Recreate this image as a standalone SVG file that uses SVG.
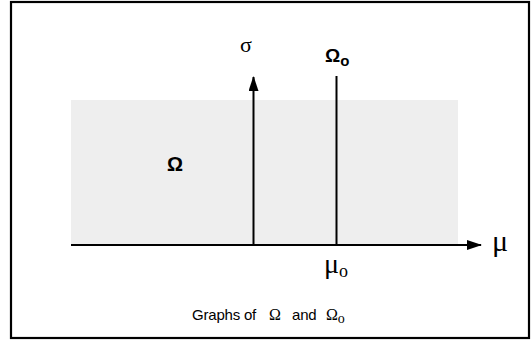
<svg xmlns="http://www.w3.org/2000/svg" width="531" height="341" viewBox="0 0 531 341">
<style>
.frame{fill:#fff;stroke:#000;stroke-width:2.2}
.ln{stroke:#000;stroke-width:2;fill:none}
.sym{font-family:"Liberation Serif","Times New Roman",serif;fill:#000}
.bold{font-family:"Liberation Sans",Arial,sans-serif;font-weight:bold;fill:#000}
.cap{font-family:"Liberation Sans",Arial,sans-serif;fill:#000}
</style>
<defs>
<marker id="ah" markerWidth="15" markerHeight="10" refX="14" refY="5" orient="auto" markerUnits="userSpaceOnUse">
<path d="M0,0 L15,5 L0,10 Z" fill="#000"/>
</marker>
</defs>
<rect class="frame" x="11" y="2" width="518" height="336"/>
<rect id="region-omega" x="71" y="100" width="387" height="145" fill="#eeeeee"/>
<g id="connectors">
<line class="ln" x1="71" y1="245" x2="481" y2="245" marker-end="url(#ah)"/>
<line class="ln" x1="253.5" y1="245" x2="253.5" y2="77" marker-end="url(#ah)"/>
<line class="ln" x1="336.5" y1="245" x2="336.5" y2="76"/>
</g>
<g id="label-sigma"><text class="sym" x="240" y="52" font-size="22">σ</text></g>
<g id="label-omega0"><text class="bold" x="325" y="62" font-size="19">Ω<tspan font-size="15" dy="4">o</tspan></text></g>
<g id="label-omega"><text class="bold" x="167" y="171" font-size="20">Ω</text></g>
<g id="label-mu"><text class="sym" x="492" y="251" font-size="30">μ</text></g>
<g id="label-mu0"><text class="sym" x="324" y="273" font-size="28">μ<tspan font-size="18" dy="4">o</tspan></text></g>
<g id="caption"><text class="cap" x="192" y="320" font-size="15" letter-spacing="-0.2">Graphs of<tspan class="sym" x="269" font-size="16">Ω</tspan><tspan x="292">and</tspan><tspan class="sym" x="326" font-size="16">Ω</tspan><tspan class="sym" font-size="14" dy="3">o</tspan></text></g>
</svg>
